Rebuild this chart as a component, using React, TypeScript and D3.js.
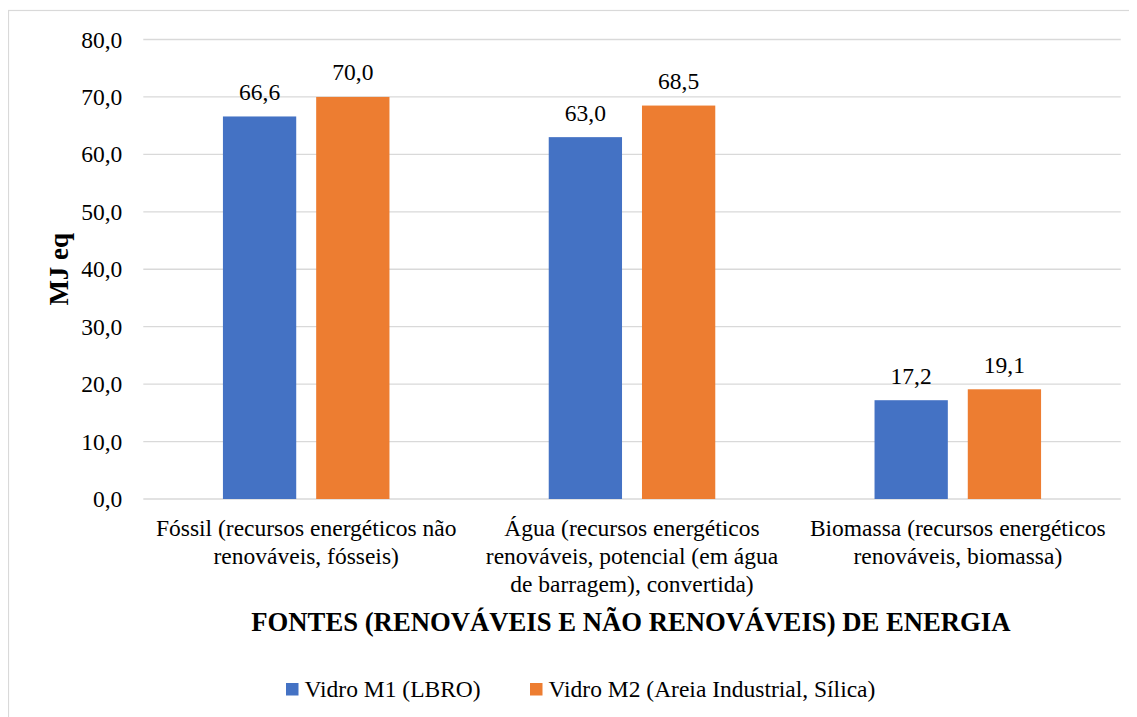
import React from "react";
import * as d3 from "d3";

// Energy sources (categories) with their wrapped label lines
const categories = ["Fóssil", "Água", "Biomassa"];
const categoryLines = [
  ["Fóssil (recursos energéticos não", "renováveis, fósseis)"],
  ["Água (recursos energéticos", "renováveis, potencial (em água", "de barragem), convertida)"],
  ["Biomassa (recursos energéticos", "renováveis, biomassa)"],
];

const seriesNames = ["Vidro M1 (LBRO)", "Vidro M2 (Areia Industrial, Sílica)"];
const seriesColors = ["#4472C4", "#ED7D31"];
const valuesM1 = [66.6, 63.0, 17.2];
const valuesM2 = [70.0, 68.5, 19.1];
const yTicks = [0, 10, 20, 30, 40, 50, 60, 70, 80];

const yTitle = "MJ eq";
const xTitle = "FONTES (RENOVÁVEIS E NÃO RENOVÁVEIS) DE ENERGIA";

const W = 1129;
const H = 709;
const plotLeft = 135.3;
const plotRight = 1112.7;
const plotTop = 31.5;
const plotBottom = 491;
const fs = 23.5;

const font = '"Liberation Serif", "Times New Roman", Times, "DejaVu Serif", serif';
const ptBR = d3.formatLocale({ decimal: ",", thousands: ".", grouping: [3], currency: ["R$", ""] });
const fmt = ptBR.format(".1f");

export default function App() {
  const x0 = d3.scaleBand<string>().domain(categories).range([plotLeft, plotRight]);
  const x1 = d3
    .scaleBand<string>()
    .domain(seriesNames)
    .range([0, x0.bandwidth()])
    .paddingInner(0.214)
    .paddingOuter(0.854);
  const y = d3.scaleLinear().domain([0, 80]).range([plotBottom, plotTop]);

  const series = [valuesM1, valuesM2];

  const legendItems = [
    { x: 278, name: seriesNames[0], color: seriesColors[0] },
    { x: 522, name: seriesNames[1], color: seriesColors[1] },
  ];

  const txt: React.CSSProperties = { fontFamily: font };

  return (
    <svg width={W} height={H} style={{ display: "block", fontFamily: font }}>
      <rect x={0.5} y={2.5} width={1200} height={800} fill="#fff" stroke="#d9d9d9" strokeWidth={1.2} />

      {/* gridlines and y tick labels */}
      {yTicks.map((t) => (
        <g key={t}>
          <line x1={plotLeft} x2={plotRight} y1={y(t)} y2={y(t)} stroke="#d9d9d9" strokeWidth={1.3} />
          <text x={114.3} y={y(t) + 8} textAnchor="end" fontSize={fs} fill="#000" style={txt}>
            {fmt(t)}
          </text>
        </g>
      ))}

      {/* bars and value labels */}
      {categories.map((c, ci) => (
        <g key={c} transform={`translate(${x0(c)},0)`}>
          {seriesNames.map((s, si) => {
            const v = series[si][ci];
            const bx = x1(s)!;
            return (
              <g key={s}>
                <rect x={bx} y={y(v)} width={x1.bandwidth()} height={y(0) - y(v)} fill={seriesColors[si]} />
                <text
                  x={bx + x1.bandwidth() / 2}
                  y={y(v) - 16.5}
                  textAnchor="middle"
                  fontSize={fs}
                  fill="#000"
                  style={txt}
                >
                  {fmt(v)}
                </text>
              </g>
            );
          })}
        </g>
      ))}

      {/* category labels */}
      {categories.map((c, ci) => (
        <text key={c} textAnchor="middle" fontSize={fs} fill="#000" style={txt}>
          {categoryLines[ci].map((line, li) => (
            <tspan key={li} x={x0(c)! + x0.bandwidth() / 2} y={527.5 + li * 28.2}>
              {line}
            </tspan>
          ))}
        </text>
      ))}

      {/* axis titles */}
      <text x={622.9} y={623} textAnchor="middle" fontSize={26.7} fontWeight="bold" fill="#000" style={txt}>
        {xTitle}
      </text>
      <text
        transform={`translate(60.3,${(plotTop + plotBottom) / 2}) rotate(-90)`}
        textAnchor="middle"
        fontSize={27}
        fontWeight="bold"
        fill="#000"
        style={txt}
      >
        {yTitle}
      </text>

      {/* legend */}
      {legendItems.map((it) => (
        <g key={it.name}>
          <rect x={it.x} y={675} width={12.5} height={12.5} fill={it.color} />
          <text x={it.x + 18.5} y={689.3} fontSize={fs} fill="#000" style={txt}>
            {it.name}
          </text>
        </g>
      ))}
    </svg>
  );
}
